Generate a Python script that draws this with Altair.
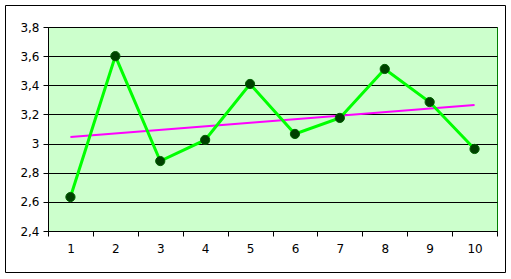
import altair as alt
import pandas as pd

categories = [1, 2, 3, 4, 5, 6, 7, 8, 9, 10]
values = [2.633, 3.60, 2.88, 3.025, 3.409, 3.066, 3.176, 3.512, 3.285, 2.963]
y_ticks = [2.4, 2.6, 2.8, 3.0, 3.2, 3.4, 3.6, 3.8]
x_ticks = [0.5, 1.5, 2.5, 3.5, 4.5, 5.5, 6.5, 7.5, 8.5, 9.5, 10.5]

df = pd.DataFrame({"x": categories, "y": values})

W, H = 449, 204
FONT = "DejaVu Sans"

xscale = alt.Scale(domain=[0.5, 10.5], nice=False, zero=False)
yscale = alt.Scale(domain=[2.4, 3.8], nice=False, zero=False)

xaxis = alt.Axis(
    values=x_ticks, title=None, grid=False,
    labelExpr="datum.value < 10.4 ? format(datum.value + 0.5, 'd') : ''",
    labelOffset=W / 20, labelFlush=False, labelOverlap=False,
    tickSize=5, tickColor="black", domainColor="black",
    labelColor="black", labelFont=FONT, labelFontSize=12, labelPadding=7,
)
yaxis = alt.Axis(
    values=y_ticks, title=None, grid=True, gridColor="black", gridOpacity=1,
    labelExpr="replace(format(datum.value, '.2~f'), '.', ',')",
    labelOverlap=False, labelFlush=False,
    tickSize=5, tickColor="black", domainColor="black",
    labelColor="black", labelFont=FONT, labelFontSize=12, labelPadding=4,
)

X = alt.X("x:Q", scale=xscale, axis=xaxis)
Y = alt.Y("y:Q", scale=yscale, axis=yaxis)

base = alt.Chart(df)

line = base.mark_line(color="#00FF00", strokeWidth=3).encode(x=X, y=Y)
pts = base.mark_point(filled=True, fill="#004000", stroke="#006000",
                      strokeWidth=1, size=85, opacity=1, shape="circle").encode(x=X, y=Y)
trend = base.transform_regression("x", "y", method="linear").mark_line(
    color="#FF00FF", strokeWidth=2
).encode(x=X, y=Y)

frame = alt.Chart(pd.DataFrame({"a": [0]})).mark_rect(
    fill=None, stroke="black", strokeWidth=1, clip=False
).encode(
    x=alt.value(-42.5), x2=alt.value(457.5),
    y=alt.value(-21.5), y2=alt.value(245.5),
)

chart = alt.layer(trend, line, pts, frame).properties(
    width=W, height=H,
    autosize=alt.AutoSizeParams(type="none"),
    padding={"left": 48, "top": 27, "right": 14, "bottom": 48},
    background="white",
).configure_view(
    fill="#CCFFCC", stroke="#008000", strokeWidth=1
)

chart.save("out.html", embed_options={"renderer": "svg", "actions": False})
